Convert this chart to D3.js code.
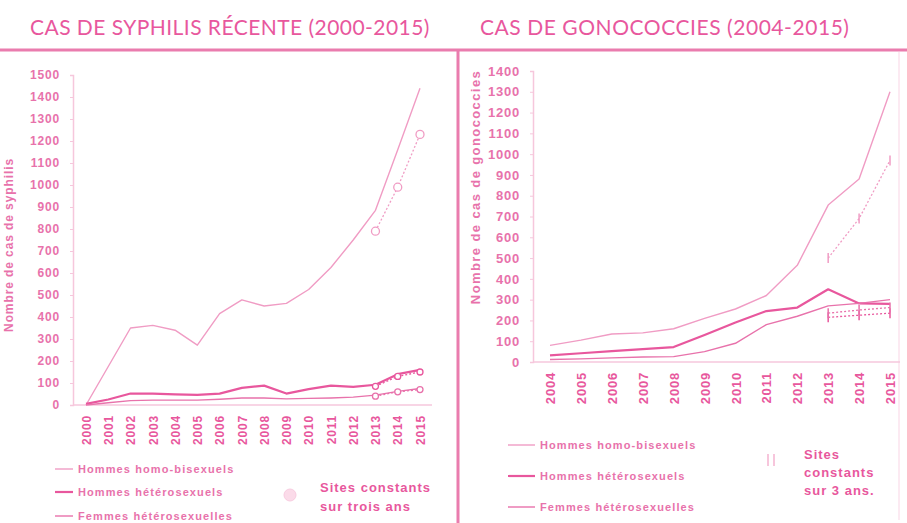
<!DOCTYPE html>
<html>
<head>
<meta charset="utf-8">
<script src="https://cdn.jsdelivr.net/npm/d3@7"></script>
<style>
  body { margin: 0; background: #fff; }
  text { font-family: "Liberation Sans", Arial, sans-serif; }
</style>
</head>
<body>
<script>
var width = 907;
var height = 523;

// ---- data ----
var syphYears = [2000, 2001, 2002, 2003, 2004, 2005, 2006, 2007, 2008, 2009, 2010, 2011, 2012, 2013, 2014, 2015];
var syphHomo = [0, 175, 350, 362, 340, 272, 415, 478, 450, 462, 525, 625, 750, 885, 1160, 1440];
var syphHetero = [5, 25, 52, 52, 48, 46, 52, 78, 88, 52, 72, 88, 82, 92, 140, 160];
var syphFemmes = [0, 10, 20, 22, 22, 22, 26, 32, 32, 28, 30, 32, 36, 45, 62, 75];
var syphConstYears = [2013, 2014, 2015];
var syphHomoConst = [790, 990, 1230];
var syphHeteroConst = [85, 130, 150];
var syphFemmesConst = [40, 60, 70];
var syphTicks = [0, 100, 200, 300, 400, 500, 600, 700, 800, 900, 1000, 1100, 1200, 1300, 1400, 1500];

var gonoYears = [2004, 2005, 2006, 2007, 2008, 2009, 2010, 2011, 2012, 2013, 2014, 2015];
var gonoHomo = [80, 105, 135, 140, 160, 210, 255, 320, 465, 755, 880, 1300];
var gonoHetero = [32, 42, 52, 62, 72, 130, 190, 245, 262, 350, 282, 280];
var gonoFemmes = [12, 15, 20, 24, 26, 50, 90, 180, 220, 270, 282, 300];
var gonoConstYears = [2013, 2014, 2015];
var gonoHomoConst = [500, 690, 970];
var gonoHeteroConst = [215, 225, 235];
var gonoFemmesConst = [235, 250, 262];
var gonoTicks = [0, 100, 200, 300, 400, 500, 600, 700, 800, 900, 1000, 1100, 1200, 1300, 1400];

var seriesNames = ["Hommes homo-bisexuels", "Hommes hétérosexuels", "Femmes hétérosexuelles"];

var pink = "#e8579d";
var light = "#f09cc4";
var mid = "#e872ab";
var faint = "#f6c7dc";

var svg = d3.select("body").append("svg")
    .attr("width", width)
    .attr("height", height);

// frame
svg.append("line").attr("x1", 0).attr("x2", width).attr("y1", 50).attr("y2", 50)
    .attr("stroke", "#ea7cae").attr("stroke-width", 3);
svg.append("line").attr("x1", 458).attr("x2", 458).attr("y1", 50).attr("y2", height)
    .attr("stroke", "#ea7cae").attr("stroke-width", 3);
svg.append("line").attr("x1", 899).attr("x2", 899).attr("y1", 52).attr("y2", 520)
    .attr("stroke", "#fbe3ee").attr("stroke-width", 1.5);

// titles
svg.append("text").attr("x", 30).attr("y", 35)
    .style("font-family", "Lato, 'Open Sans', sans-serif").style("font-size", "21px")
    .style("letter-spacing", "0.45px").attr("fill", pink)
    .text("CAS DE SYPHILIS RÉCENTE (2000-2015)");
svg.append("text").attr("x", 480).attr("y", 35)
    .style("font-family", "Lato, 'Open Sans', sans-serif").style("font-size", "21px")
    .style("letter-spacing", "0.55px").attr("fill", pink)
    .text("CAS DE GONOCOCCIES (2004-2015)");

function drawPanel(opt) {
  var g = svg.append("g");

  var x = d3.scalePoint().domain(opt.years).range(opt.xRange);
  var y = d3.scaleLinear().domain([0, opt.yMax]).range(opt.yRange);

  // y axis
  var yAxis = g.append("g")
      .attr("transform", "translate(" + opt.axisX + ",0)")
      .call(d3.axisLeft(y).tickValues(opt.ticks).tickFormat(d3.format("d"))
        .tickSize(3).tickPadding(opt.tickPad));
  yAxis.select(".domain").attr("stroke", faint).attr("stroke-width", 1.5);
  yAxis.selectAll(".tick line").attr("stroke", faint);
  yAxis.selectAll(".tick text")
      .attr("fill", mid)
      .style("font-size", opt.tickFont + "px").style("font-weight", "bold")
      .style("letter-spacing", "0.8px");

  // x axis
  var xAxis = g.append("g")
      .attr("transform", "translate(0," + opt.yRange[0] + ")")
      .call(d3.axisBottom(x).tickSize(0));
  xAxis.select(".domain").attr("d", "M" + opt.axisX + ",0H" + opt.xEnd)
      .attr("stroke", faint).attr("stroke-width", 1.5);
  xAxis.selectAll(".tick text")
      .attr("fill", pink)
      .attr("transform", "rotate(-90)")
      .attr("text-anchor", "end")
      .attr("dx", -opt.yearGap).attr("dy", "0.35em").attr("y", 0)
      .style("font-size", opt.yearFont + "px").style("font-weight", "bold")
      .style("letter-spacing", "0.8px");

  // y axis title
  g.append("text")
      .attr("transform", "translate(" + opt.titleX + "," + opt.titleY + ") rotate(-90)")
      .attr("text-anchor", "middle").attr("dy", "0.35em")
      .attr("fill", mid)
      .style("font-size", opt.titleFont + "px").style("font-weight", "bold")
      .style("letter-spacing", opt.titleSpacing + "px")
      .text(opt.yTitle);

  var line = d3.line()
      .x(function(d) { return x(d.year); })
      .y(function(d) { return y(d.value); });

  var styles = [
    { color: light, w: 1.4 },
    { color: pink, w: 2.2 },
    { color: mid, w: 1.4 }
  ];

  opt.series.forEach(function(values, i) {
    var pts = opt.years.map(function(yr, j) { return { year: yr, value: values[j] }; });
    g.append("path").datum(pts)
        .attr("d", line)
        .attr("fill", "none")
        .attr("stroke", styles[i].color)
        .attr("stroke-width", styles[i].w)
        .attr("stroke-linejoin", "round");
  });

  opt.constSeries.forEach(function(values, i) {
    var pts = opt.constYears.map(function(yr, j) { return { year: yr, value: values[j] }; });
    g.append("path").datum(pts)
        .attr("d", line)
        .attr("fill", "none")
        .attr("stroke", styles[i].color)
        .attr("stroke-width", 1.3)
        .attr("stroke-dasharray", "2,2");
    if (opt.marker == "circle") {
      g.selectAll(null).data(pts).enter().append("circle")
          .attr("cx", function(d) { return x(d.year); })
          .attr("cy", function(d) { return y(d.value); })
          .attr("r", i == 0 ? 4 : 3)
          .attr("fill", "#fff")
          .attr("stroke", styles[i].color)
          .attr("stroke-width", 1.3);
    } else {
      g.selectAll(null).data(pts).enter().append("line")
          .attr("x1", function(d) { return x(d.year); })
          .attr("x2", function(d) { return x(d.year); })
          .attr("y1", function(d) { return y(d.value) - 5; })
          .attr("y2", function(d) { return y(d.value) + 5; })
          .attr("stroke", styles[i].color)
          .attr("stroke-width", 1.5);
    }
  });

  // legend
  var leg = g.append("g");
  seriesNames.forEach(function(name, i) {
    var ly = opt.legY[i];
    leg.append("line")
        .attr("x1", opt.legX).attr("x2", opt.legX + opt.legLen)
        .attr("y1", ly).attr("y2", ly)
        .attr("stroke", styles[i].color).attr("stroke-width", styles[i].w);
    leg.append("text")
        .attr("x", opt.legX + opt.legLen + 5).attr("y", ly).attr("dy", "0.35em")
        .attr("fill", mid)
        .style("font-size", opt.legFont + "px").style("font-weight", "bold")
        .style("letter-spacing", "1.1px")
        .text(name);
  });

  // sites constants note
  if (opt.marker == "circle") {
    leg.append("circle").attr("cx", opt.noteMark[0]).attr("cy", opt.noteMark[1])
        .attr("r", 6).attr("fill", "#fbdbe9").attr("stroke", "#f8cce0");
  } else {
    [-3, 3].forEach(function(dx) {
      leg.append("line")
          .attr("x1", opt.noteMark[0] + dx).attr("x2", opt.noteMark[0] + dx)
          .attr("y1", opt.noteMark[1] - 6).attr("y2", opt.noteMark[1] + 6)
          .attr("stroke", "#f4b3d1").attr("stroke-width", 1.5);
    });
  }
  opt.note.forEach(function(t, i) {
    leg.append("text")
        .attr("x", opt.noteX).attr("y", opt.noteY + i * opt.noteStep)
        .attr("fill", pink)
        .style("font-size", "13px").style("font-weight", "bold")
        .style("letter-spacing", "1px")
        .text(t);
  });
}

drawPanel({
  years: syphYears, yMax: 1500, ticks: syphTicks,
  xRange: [86, 420], yRange: [405, 75], axisX: 73, xEnd: 432,
  tickPad: 10, tickFont: 12, yearGap: 10, yearFont: 12,
  titleX: 9, titleY: 245, titleFont: 12, titleSpacing: 0.9,
  yTitle: "Nombre de cas de syphilis",
  series: [syphHomo, syphHetero, syphFemmes],
  constYears: syphConstYears,
  constSeries: [syphHomoConst, syphHeteroConst, syphFemmesConst],
  marker: "circle",
  legX: 55, legLen: 18, legY: [469, 492, 516], legFont: 11,
  noteMark: [290, 495], note: ["Sites constants", "sur trois ans"],
  noteX: 320, noteY: 492, noteStep: 19
});

drawPanel({
  years: gonoYears, yMax: 1400, ticks: gonoTicks,
  xRange: [550, 890], yRange: [362, 71], axisX: 533, xEnd: 900,
  tickPad: 10, tickFont: 13, yearGap: 10, yearFont: 13,
  titleX: 475, titleY: 187, titleFont: 13, titleSpacing: 1.4,
  yTitle: "Nombre de cas de gonococcies",
  series: [gonoHomo, gonoHetero, gonoFemmes],
  constYears: gonoConstYears,
  constSeries: [gonoHomoConst, gonoHeteroConst, gonoFemmesConst],
  marker: "bar",
  legX: 508, legLen: 27, legY: [445, 476, 507], legFont: 11,
  noteMark: [771, 460], note: ["Sites", "constants", "sur 3 ans."],
  noteX: 804, noteY: 459, noteStep: 18
});
</script>
</body>
</html>
